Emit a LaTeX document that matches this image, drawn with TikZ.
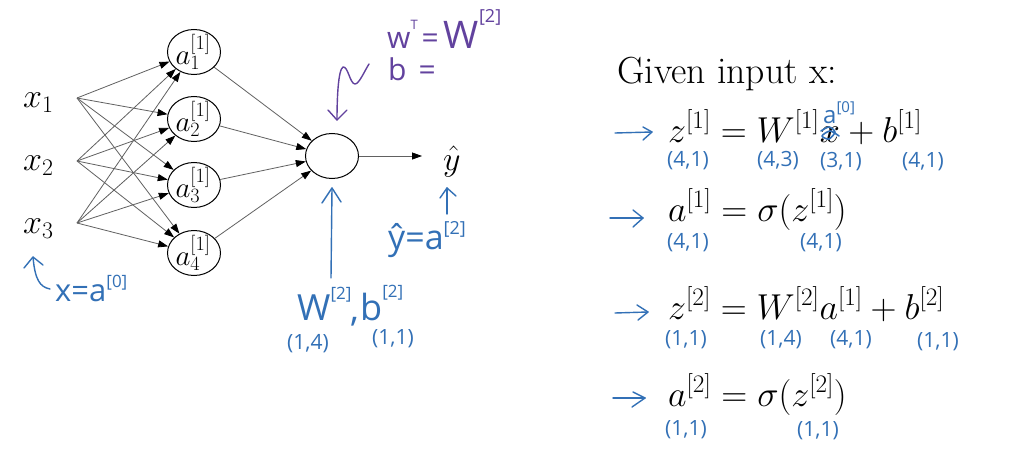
\RequirePackage{fix-cm}
\documentclass[tikz,border=0pt]{standalone}
\usepackage{fontspec}
\newfontfamily\hwfont{Open Sans}
\usetikzlibrary{arrows.meta,shapes.geometric}
\definecolor{hwblue}{RGB}{50,112,182}
\definecolor{hwpurple}{RGB}{98,66,158}
\newcommand\hfs[1]{\fontsize{#1}{#1}\selectfont}
\newcommand\hsup[3]{\raisebox{#1pt}{\hfs{#2}#3}}
\tikzset{
  neuron/.style={draw, line width=1pt, ellipse, minimum width=53pt, minimum height=45pt, inner sep=0pt},
  lbl/.style={anchor=base west, inner sep=0pt},
  nnedge/.style={draw=black!62, line width=0.8pt, -{Triangle[length=10pt,width=7pt,color=black]}},
  hwb/.style={draw=hwblue, line width=1.4pt, line cap=round, line join=round},
  hwp/.style={draw=hwpurple, line width=1.4pt, line cap=round, line join=round},
  hwt/.style={lbl, text=hwblue},
  hwpt/.style={lbl, text=hwpurple},
  dim/.style={hwt, font=\hwfont\hfs{21}},
  hlab/.style={font=\hfs{29}, inner sep=0pt}
}
\begin{document}
\begin{tikzpicture}[x=1pt,y=-1pt]
\fill[white] (0,0) rectangle (1018,455);
\useasboundingbox (0,0) rectangle (1018,455);

% ---------- network ----------
\node[lbl, font=\hfs{34}] (x1) at (23,107) {$x_1$};
\node[lbl, font=\hfs{34}] (x2) at (23,170) {$x_2$};
\node[lbl, font=\hfs{34}] (x3) at (23,233) {$x_3$};
\coordinate (p1) at (77,98);
\coordinate (p2) at (77,161);
\coordinate (p3) at (77,223);

\node[neuron] (a1) at (194,52) {};
\node[neuron] (a2) at (194,119) {};
\node[neuron] (a3) at (194,185) {};
\node[neuron] (a4) at (194,253) {};
\node[hlab] (a1l) at ([xshift=-1pt]a1) {$a^{[1]}_1$};
\node[hlab] (a2l) at ([xshift=-1pt]a2) {$a^{[1]}_2$};
\node[hlab] (a3l) at ([xshift=-1pt]a3) {$a^{[1]}_3$};
\node[hlab] (a4l) at ([xshift=-1pt]a4) {$a^{[1]}_4$};

\node[neuron] (out) at (332,156) {};
\node[lbl, font=\hfs{34}] (yhat) at (443,170) {$\hat{y}$};

\foreach \p in {p1,p2,p3}{
  \foreach \h in {a1,a2,a3,a4}{
    \draw[nnedge] (\p) -- (\h);
  }
}
\foreach \h in {a1,a2,a3,a4}{
  \draw[nnedge] (\h) -- (out);
}
\draw[nnedge, shorten >=21pt] (out.east) -- (yhat.west |- out.east);

% ---------- annotations on the network ----------
\coordinate (hx0) at (50,289);
\coordinate (hx1) at (33,257);
\draw[hwb] (hx0) .. controls (40,287) and (35,280) .. (hx1);
\draw[hwb] (24,268) -- (hx1) -- (43,265);
\node[hwt, font=\hwfont\hfs{31}] (xa0) at (55,301) {x=a\hsup{14}{17}{[0]}};

\coordinate (hw0) at (331,278);
\coordinate (hw1) at (332,188);
\draw[hwb] (hw0) -- (hw1);
\draw[hwb] (322,203) -- (hw1) -- (341,202);
\node[hwt, font=\hwfont\hfs{36}] (W2) at (297,320) {W\hsup{21}{17}{[2]}};
\node[hwt, font=\hwfont\hfs{36}] (cm) at (350,321) {,};
\node[hwt, font=\hwfont\hfs{36}] (b2) at (360,320) {b\hsup{23}{17}{[2]}};
\node[dim] (dW) at (287,349) {(1,4)};
\node[dim] (db) at (372,344) {(1,1)};

\coordinate (hy0) at (447,214);
\coordinate (hy1) at (447,188);
\draw[hwb] (hy0) -- (hy1);
\draw[hwb] (440,198) -- (hy1) -- (456,196);
\node[hwt, font=\hwfont\hfs{34}] (ya2) at (388,249) {ŷ=a\hsup{15}{18}{[2]}};

\coordinate (sq0) at (369,64);
\coordinate (sq1) at (337,120);
\draw[hwp] (sq0) .. controls (364,72) and (359,84) .. (355,84)
  .. controls (350,84) and (348,66) .. (343,67)
  .. controls (338,70) and (337,100) .. (sq1);
\draw[hwp] (328,110) -- (sq1) -- (347,110);
\node[hwpt, font=\hwfont\hfs{30}] (wT) at (387,48) {w\hsup{19}{13}{T}\hspace{4pt}=\hspace{5pt}{\hfs{38}W}\hsup{25}{18}{[2]}};
\node[hwpt, font=\hwfont\hfs{30}] (bq) at (388,80) {b\hspace{12pt}=};

% ---------- equations ----------
\node[lbl, font=\hfs{37.7}] (giv) at (617,83) {Given input x:};
\node[lbl, font=\hfs{36}] (e1a) at (668,142) {$z^{[1]} = W^{[1]}$};
\node[lbl, font=\hfs{36}] (e1x) at (e1a.base east) {$x$};
\node[lbl, font=\hfs{36}] (e1b) at (e1x.base east) {${}+ b^{[1]}$};
\node[lbl, font=\hfs{36}] (e2) at (668,221) {$a^{[1]} = \sigma(z^{[1]})$};
\node[lbl, font=\hfs{36}] (e3) at (668,319) {$z^{[2]} = W^{[2]}a^{[1]} + b^{[2]}$};
\node[lbl, font=\hfs{36}] (e4) at (668,406) {$a^{[2]} = \sigma(z^{[2]})$};

% crossed x and a^[0]
\draw[hwb, line width=1.6pt] plot[smooth] coordinates {(821,131) (829,127) (835,132) (829,139) (822,136) (830,131) (839,136)};
\node[hwt, font=\hwfont\hfs{24}] (a0) at (823,123) {a\hsup{11}{15}{[0]}};

% blue arrows
\draw[hwb] (615,133) -- (652,132);
\draw[hwb] (643,127) -- (652,132) -- (643,140);
\draw[hwb] (610,218) -- (643,218);
\draw[hwb] (633,210) -- (643,218) -- (633,227);
\draw[hwb] (615,313) -- (648,312);
\draw[hwb] (637,305) -- (648,312) -- (638,320);
\draw[hwb] (613,398) -- (645,398);
\draw[hwb] (633,392) -- (645,398) -- (632,407);

% dimensions
\node[dim] (d1a) at (667,166) {(4,1)};
\node[dim] (d1b) at (757,166) {(4,3)};
\node[dim] (d1c) at (820,167) {(3,1)};
\node[dim] (d1d) at (902,167) {(4,1)};
\node[dim] (d2a) at (667,248) {(4,1)};
\node[dim] (d2b) at (800,248) {(4,1)};
\node[dim] (d3a) at (665,345) {(1,1)};
\node[dim] (d3b) at (760,345) {(1,4)};
\node[dim] (d3c) at (830,345) {(4,1)};
\node[dim] (d3d) at (917,347) {(1,1)};
\node[dim] (d4a) at (665,435) {(1,1)};
\node[dim] (d4b) at (797,436) {(1,1)};
\end{tikzpicture}
\end{document}
